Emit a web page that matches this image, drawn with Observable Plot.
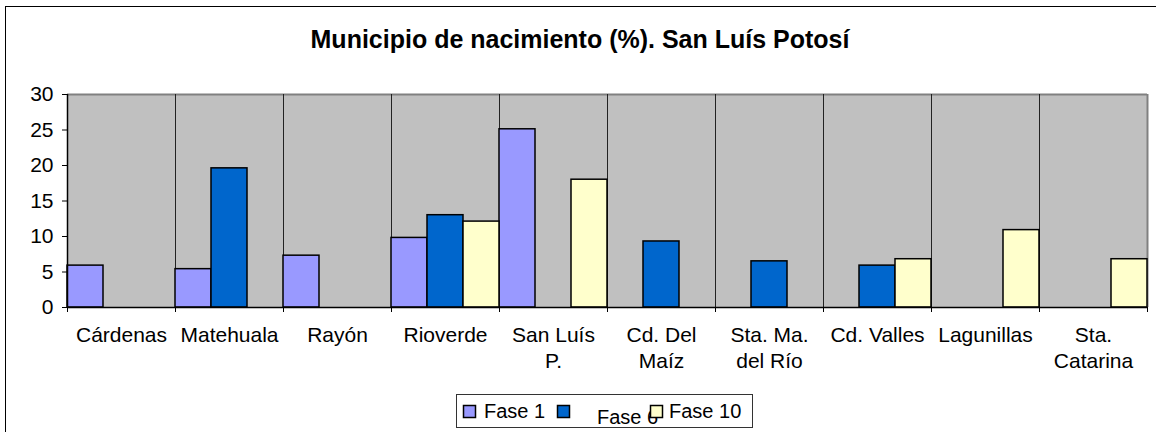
<!DOCTYPE html>
<html><head><meta charset="utf-8">
<script src="https://cdn.jsdelivr.net/npm/d3@7"></script>
<script src="https://cdn.jsdelivr.net/npm/@observablehq/plot@0.6"></script>
<style>
html,body{margin:0;padding:0;background:#fff;overflow:hidden;}
#wrap{position:relative;width:1156px;height:432px;overflow:hidden;font-family:"Liberation Sans",Arial,sans-serif;color:#000;}
#border{position:absolute;left:5px;top:6px;width:1200px;height:500px;border:1.5px solid #000;box-sizing:border-box;}
#title{position:absolute;left:0;width:1160px;top:24px;text-align:center;font-weight:bold;font-size:25px;line-height:30px;}
#chart{position:absolute;left:0;top:0;}
#legend{position:absolute;left:456px;top:394px;}
</style></head>
<body><div id="wrap"><div id="border"></div><div id="title">Municipio de nacimiento (%). San Luís Potosí</div><div id="chart"></div><div id="legend"></div></div>
<script>
const categories = ["Cárdenas","Matehuala","Rayón","Rioverde","San Luís\nP.","Cd. Del\nMaíz","Sta. Ma.\ndel Río","Cd. Valles","Lagunillas","Sta.\nCatarina"];
const series = ["Fase 1","Fase 6","Fase 10"];
const fase1  = [5.9, 5.4, 7.3, 9.8, 25.1, null, null, null, null, null];
const fase6  = [null, 19.6, null, 13.0, null, 9.3, 6.5, 5.9, null, null];
const fase10 = [null, null, null, 12.1, 18.0, null, null, 6.8, 10.9, 6.8];
const colors = ["#9999FF","#0066CC","#FFFFCC"];
const yTicks = [0,5,10,15,20,25,30];

const values = [fase1, fase6, fase10];
const rows = [];
values.forEach((arr, j) => arr.forEach((v, i) => { if (v != null) rows.push({cat: i, s: j, value: v}); }));
const n = categories.length, k = series.length;

const chart = Plot.plot({
  width: 1156, height: 432,
  marginLeft: 67, marginRight: 9, marginTop: 94, marginBottom: 125,
  x: {domain: [0, n]},
  y: {domain: [0, 30]},
  style: {fontFamily: '"Liberation Sans", Arial, sans-serif', fontSize: "21px", color: "#000", background: "transparent", overflow: "visible"},
  marks: [
    Plot.frame({fill: "#C0C0C0", stroke: null}),
    Plot.ruleY([30], {stroke: "#808080", strokeWidth: 2}),
    Plot.ruleX(d3.range(1, n), {stroke: "#222", strokeWidth: 1}),
    Plot.ruleX([n], {stroke: "#808080", strokeWidth: 2}),
    Plot.rectY(rows, {x1: d => d.cat + d.s / k, x2: d => d.cat + (d.s + 1) / k, y1: 0, y2: "value",
      fill: d => colors[d.s], stroke: "#000", strokeWidth: 1.5}),
    Plot.ruleX([0], {stroke: "#000", strokeWidth: 1.5}),
    Plot.ruleY([0], {stroke: "#000", strokeWidth: 1.5}),
    Plot.axisY({ticks: yTicks, tickSize: 5, tickPadding: 9, fontSize: 21, label: null}),
    Plot.axisX({ticks: d3.range(0, n + 1), tickSize: 5, tickFormat: () => "", label: null}),
    Plot.axisX({ticks: d3.range(n).map(i => i + 0.5), tickSize: 0, tickPadding: 17, lineHeight: 1.2,
      tickFormat: v => categories[Math.floor(v)], fontSize: 21, label: null})
  ]
});
document.getElementById("chart").appendChild(chart);

// legend
const lg = d3.select("#legend").append("svg").attr("width", 298).attr("height", 35)
  .style("font-family", '"Liberation Sans", Arial, sans-serif').style("font-size", "20px");
lg.append("rect").attr("x", 0.5).attr("y", 0.5).attr("width", 296).attr("height", 33).attr("fill", "#fff").attr("stroke", "#333");
const swX = [7, 101, 194], txX = [28, 141, 213], txY = [24, 30, 24];
series.forEach((s, j) => {
  lg.append("rect").attr("x", swX[j] + 0.5).attr("y", 11.5).attr("width", 12).attr("height", 12)
    .attr("fill", colors[j]).attr("stroke", "#000").attr("stroke-width", 1.5);
  lg.append("text").attr("x", txX[j]).attr("y", txY[j]).attr("fill", "#000").text(s);
});
// the Fase 10 swatch sits above the lowered "Fase 6" label, as in the original
lg.selectAll("rect").filter((d, i) => i === 3).raise();
</script>
</body></html>
